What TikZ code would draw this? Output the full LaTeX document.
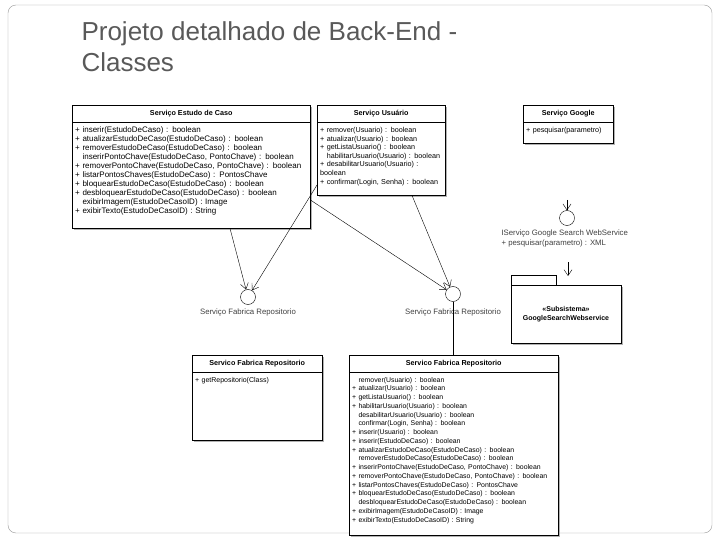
\documentclass[tikz,border=0pt]{standalone}
\usepackage{fontspec}
\setmainfont{Liberation Sans}
\usetikzlibrary{arrows.meta}
\begin{document}
\begin{tikzpicture}[x=1pt,y=-1pt,
  hdr/.style={draw,fill=white,anchor=north west,inner sep=0pt,font=\fontsize{7.2}{8}\selectfont\bfseries,align=center},
  body/.style={anchor=north west,inner xsep=3pt,inner ysep=5pt,align=left},
  iface/.style={draw,circle,minimum size=15pt,inner sep=0pt,fill=white},
  lbl/.style={font=\fontsize{7.8}{9}\selectfont,text=black!75},
  dep/.style={-{Straight Barb[length=6pt,width=8pt]},thin},
  shd/.style={fill=black!30}]
\useasboundingbox (0,0) rectangle (720,540);
\draw[black!40,rounded corners=8pt] (8,5) rectangle (712,533);
\node[anchor=north west,align=left,font=\fontsize{26}{31}\selectfont,text=black!65] (title) at (78,18) {Projeto detalhado de Back-End -\\Classes};
% shadows
\fill[shd] (74,107) rectangle (312,230);
\fill[shd] (319,107) rectangle (447,197);
\fill[shd] (525,107) rectangle (615,145);
\fill[shd] (194,357) rectangle (324,442);
\fill[shd] (351,357) rectangle (560,537);
\fill[shd] (513,287) rectangle (623,345);
% box backgrounds
\draw[fill=white] (72,122) rectangle (310,228);
\draw[fill=white] (317,122) rectangle (445,195);
\draw[fill=white] (523,122) rectangle (613,143);
\draw[fill=white] (192,372) rectangle (322,440);
\draw[fill=white] (349,372) rectangle (558,535);
% Servico Estudo de Caso
\node[hdr,minimum width=238pt,minimum height=17pt] (e1) at (72,105) {Serviço Estudo de Caso};
\node[body,text width=234pt,font=\fontsize{8}{9}\selectfont] (e1b) at (72,122) {+ inserir(EstudoDeCaso) : boolean\\+ atualizarEstudoDeCaso(EstudoDeCaso) : boolean\\+ removerEstudoDeCaso(EstudoDeCaso) : boolean\\\hphantom{+ }inserirPontoChave(EstudoDeCaso, PontoChave) : boolean\\+ removerPontoChave(EstudoDeCaso, PontoChave) : boolean\\+ listarPontosChaves(EstudoDeCaso) : PontosChave\\+ bloquearEstudoDeCaso(EstudoDeCaso) : boolean\\+ desbloquearEstudoDeCaso(EstudoDeCaso) : boolean\\\hphantom{+ }exibirImagem(EstudoDeCasoID) : Image\\+ exibirTexto(EstudoDeCasoID) : String};
% Servico Usuario
\node[hdr,minimum width=128pt,minimum height=17pt] (u1) at (317,105) {Serviço Usuário};
\node[body,text width=124pt,font=\fontsize{7.2}{8.6}\selectfont] (u1b) at (317,122) {+ remover(Usuario) : boolean\\+ atualizar(Usuario) : boolean\\+ getListaUsuario() : boolean\\\hphantom{+ }habilitarUsuario(Usuario) : boolean\\+ desabilitarUsuario(Usuario) :\\boolean\\+ confirmar(Login, Senha) : boolean};
% Servico Google
\node[hdr,minimum width=90pt,minimum height=17pt] (g1) at (523,105) {Serviço Google};
\node[body,text width=86pt,font=\fontsize{7.2}{9}\selectfont] (g1b) at (523,122) {+ pesquisar(parametro)};
% interfaces
\node[iface] (c1) at (248,297) {};
\node[lbl,anchor=north] (c1l) at (248,305) {Serviço Fabrica Repositorio};
\node[iface] (c2) at (453,294) {};
\node[lbl,anchor=north] (c2l) at (453,305) {Serviço Fabrica Repositorio};
\node[iface] (c3) at (567,218) {};
\node[lbl,anchor=north west,align=left,font=\fontsize{7.8}{10}\selectfont] (c3l) at (498,226) {IServiço Google Search WebService\\+ pesquisar(parametro) : XML};
\coordinate (v1) at (567,200);
\coordinate (v2) at (568,262);
\coordinate (v3) at (568,276);
\draw[dep] (v1) -- (c3.north);
\draw[dep] (v2) -- (v3);
% package
\draw[fill=white] (511,275) rectangle (556,285);
\node[draw,fill=white,minimum width=110pt,minimum height=58pt,inner sep=0pt,align=center,font=\fontsize{7}{9}\selectfont\bfseries] (pk) at (566,314) {<<Subsistema>>\\GoogleSearchWebservice};
% bottom boxes
\node[hdr,minimum width=130pt,minimum height=17pt] (r1) at (192,355) {Servico Fabrica Repositorio};
\node[body,text width=126pt,font=\fontsize{7}{9}\selectfont] (r1b) at (192,372) {+ getRepositorio(Class)};
\node[hdr,minimum width=209pt,minimum height=17pt] (r2) at (349,355) {Servico Fabrica Repositorio};
\node[body,text width=205pt,font=\fontsize{6.9}{8.75}\selectfont] (r2b) at (349,372) {\hphantom{+ }remover(Usuario) : boolean\\+ atualizar(Usuario) : boolean\\+ getListaUsuario() : boolean\\+ habilitarUsuario(Usuario) : boolean\\\hphantom{+ }desabilitarUsuario(Usuario) : boolean\\\hphantom{+ }confirmar(Login, Senha) : boolean\\+ inserir(Usuario) : boolean\\+ inserir(EstudoDeCaso) : boolean\\+ atualizarEstudoDeCaso(EstudoDeCaso) : boolean\\\hphantom{+ }removerEstudoDeCaso(EstudoDeCaso) : boolean\\+ inserirPontoChave(EstudoDeCaso, PontoChave) : boolean\\+ removerPontoChave(EstudoDeCaso, PontoChave) : boolean\\+ listarPontosChaves(EstudoDeCaso) : PontosChave\\+ bloquearEstudoDeCaso(EstudoDeCaso) : boolean\\\hphantom{+ }desbloquearEstudoDeCaso(EstudoDeCaso) : boolean\\+ exibirImagem(EstudoDeCasoID) : Image\\+ exibirTexto(EstudoDeCasoID) : String};
% connectors
\draw[dep] (e1.south-|230,0) ++(0,106) -- (c1);
\draw[dep] (u1.west|-0,185) -- (c1);
\draw[dep] (e1.east|-0,200) -- (c2);
\draw[dep] (u1.south-|412,0) ++(0,73) -- (c2);
\draw (c2.south) -- (r2.north-|c2);
\end{tikzpicture}
\end{document}
